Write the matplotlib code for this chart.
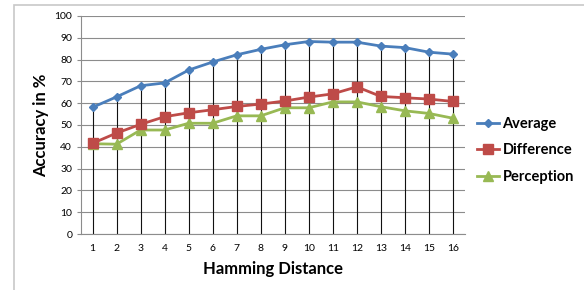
import matplotlib
matplotlib.use("Agg")
import matplotlib.pyplot as plt
from matplotlib.patches import Rectangle

plt.rcParams['font.family'] = ['Lato', 'DejaVu Sans']

hamming = list(range(1, 17))
average = [58.1, 62.9, 68.0, 69.3, 75.2, 78.9, 82.2, 84.7, 86.8, 88.3, 88.0, 88.0, 86.2, 85.5, 83.4, 82.5]
difference = [41.6, 46.3, 50.3, 53.8, 55.6, 57.0, 58.5, 59.6, 61.0, 62.8, 64.3, 67.5, 63.1, 62.5, 61.9, 60.8]
perception = [41.4, 41.2, 47.7, 47.7, 50.8, 50.8, 54.2, 54.2, 57.9, 57.9, 60.6, 60.6, 58.4, 56.5, 55.3, 53.1]
yticks = list(range(0, 101, 10))

W, H = 584, 290
fig = plt.figure(figsize=(W / 100, H / 100), dpi=100)
fig.patch.set_facecolor('white')
fig.patches.append(Rectangle((14 / W, -0.1), 1.2, 1 - 5 / H + 0.1, transform=fig.transFigure,
                             fill=False, edgecolor='#c8c8c8', lw=1.2))

ax = fig.add_axes([80.5 / W, 1 - 234 / H, (465 - 80.5) / W, (234 - 16) / H])
ax.set_xlim(0.5, 16.5)
ax.set_ylim(0, 100)
ax.set_yticks(yticks)
ax.set_xticks(hamming)
ax.yaxis.grid(True, color='#8c8c8c', lw=0.8)
ax.set_axisbelow(True)
for s in ['top', 'right']:
    ax.spines[s].set_visible(False)
for s in ['left', 'bottom']:
    ax.spines[s].set_color('#8c8c8c')
    ax.spines[s].set_linewidth(0.8)
ax.tick_params(axis='both', labelsize=7.5, color='#8c8c8c', length=3, width=0.8, pad=3)
ax.tick_params(axis='x', length=0, pad=7)

ax.vlines(hamming, 0, average, colors='#111111', lw=0.8, zorder=2)

ax.plot(hamming, average, color='#4A7EBB', lw=2, marker='D', ms=4, label='Average', zorder=5)
ax.plot(hamming, difference, color='#BE4B48', lw=2, marker='s', ms=6.5, label='Difference', zorder=4)
ax.plot(hamming, perception, color='#98B954', lw=2, marker='^', ms=7, label='Perception', zorder=3)

ax.set_ylabel('Accuracy in %', fontsize=12, fontweight='bold', labelpad=4)
ax.set_xlabel('Hamming Distance', fontsize=12, fontweight='bold', labelpad=6)

leg = fig.legend(loc='upper left', bbox_to_anchor=(477 / W, 1 - 117 / H), frameon=False,
                 prop={'size': 10.5, 'weight': 'bold'}, handlelength=1.5, handletextpad=0.25,
                 labelspacing=0.85, borderaxespad=0, borderpad=0)

fig.savefig('out.png', dpi=100, facecolor='white')
